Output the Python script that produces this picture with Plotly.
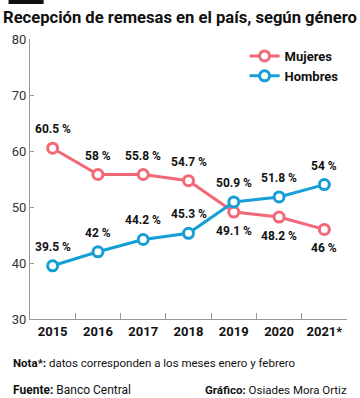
import plotly.graph_objects as go

years = ["2015", "2016", "2017", "2018", "2019", "2020", "2021*"]
mujeres = [60.5, 55.8, 55.8, 54.7, 49.1, 48.2, 46.0]
hombres = [39.5, 42.0, 44.2, 45.3, 50.9, 51.8, 54.0]
mujeres_labels = ["60.5 %", "58 %", "55.8 %", "54.7 %", "49.1 %", "48.2 %", "46 %"]
hombres_labels = ["39.5 %", "42 %", "44.2 %", "45.3 %", "50.9 %", "51.8 %", "54 %"]
mujeres_pos = ["above", "above", "above", "above", "below", "below", "below"]
hombres_pos = ["above"] * 7
y_ticks = [30, 40, 50, 60, 70, 80]

PINK = "#f26877"
BLUE = "#159fd6"
FONT = "Roboto"

fig = go.Figure()
fig.add_trace(go.Scatter(
    x=years, y=mujeres, name="<b>Mujeres</b>", mode="lines+markers",
    line=dict(color=PINK, width=3),
    marker=dict(size=10, color="white", line=dict(color=PINK, width=3)),
))
fig.add_trace(go.Scatter(
    x=years, y=hombres, name="<b>Hombres</b>", mode="lines+markers",
    line=dict(color=BLUE, width=3),
    marker=dict(size=10, color="white", line=dict(color=BLUE, width=3)),
))

annotations = []
for vals, labs, pos in ((mujeres, mujeres_labels, mujeres_pos), (hombres, hombres_labels, hombres_pos)):
    for i, (v, t, p) in enumerate(zip(vals, labs, pos)):
        annotations.append(dict(
            x=i, y=v, text="<b>%s</b>" % t, showarrow=False,
            yshift=19 if p == "above" else -19,
            font=dict(family=FONT, size=12, color="#111"),
        ))

W, H = 360, 398
L, R, T, B = 22, 13, 39, 79
pw, ph = W - L - R, H - T - B

def px(xp):
    return (xp - L) / pw

def py(yp):
    return (H - B - yp) / ph

annotations += [
    dict(xref="paper", yref="paper", x=px(3), y=py(363), xanchor="left", yanchor="middle",
         showarrow=False, text="<b>Nota*:</b> datos corresponden a los meses enero y febrero",
         font=dict(family=FONT, size=11.5, color="#111")),
    dict(xref="paper", yref="paper", x=px(3), y=py(390), xanchor="left", yanchor="middle",
         showarrow=False, text="<b>Fuente:</b> Banco Central",
         font=dict(family=FONT, size=12, color="#111")),
    dict(xref="paper", yref="paper", x=px(349), y=py(390), xanchor="right", yanchor="middle",
         showarrow=False, text="<b>Gráfico:</b> Osiades Mora Ortiz",
         font=dict(family=FONT, size=11.5, color="#111")),
]

fig.update_layout(
    width=W, height=H,
    margin=dict(l=L, r=R, t=T, b=B, pad=0),
    paper_bgcolor="white", plot_bgcolor="white",
    title=dict(text="<b>Recepción de remesas en el país, según género</b>",
               x=3 / W, xanchor="left", y=1 - 17 / H, yanchor="middle",
               font=dict(family=FONT, size=16.6, color="#111")),
    showlegend=True,
    legend=dict(x=px(242), y=py(41), xanchor="left", yanchor="top",
                font=dict(family=FONT, size=13, color="#111"),
                bgcolor="rgba(0,0,0,0)", traceorder="normal"),
    annotations=annotations,
    shapes=[dict(type="rect", xref="paper", yref="paper", x0=px(0), x1=px(36),
                 y0=py(4), y1=py(0), fillcolor="#111", line=dict(width=0))],
    xaxis=dict(type="category", range=[-0.5, 6.5], showgrid=False, zeroline=False,
               showline=True, linecolor="#999", linewidth=1,
               ticks="inside", tickson="boundaries", ticklen=6, tickcolor="#999",
               tickfont=dict(family=FONT, size=13, color="#111"),
               tickprefix="<b>", ticksuffix="</b>"),
    yaxis=dict(range=[30, 80], tickvals=y_ticks, showgrid=False, zeroline=False,
               showline=True, linecolor="#999", linewidth=1,
               ticks="inside", ticklen=4, tickcolor="#999",
               tickfont=dict(family=FONT, size=13, color="#333")),
)

fig.write_html("out.html", config={"displayModeBar": False},
               post_script="document.body.style.margin='0';")
